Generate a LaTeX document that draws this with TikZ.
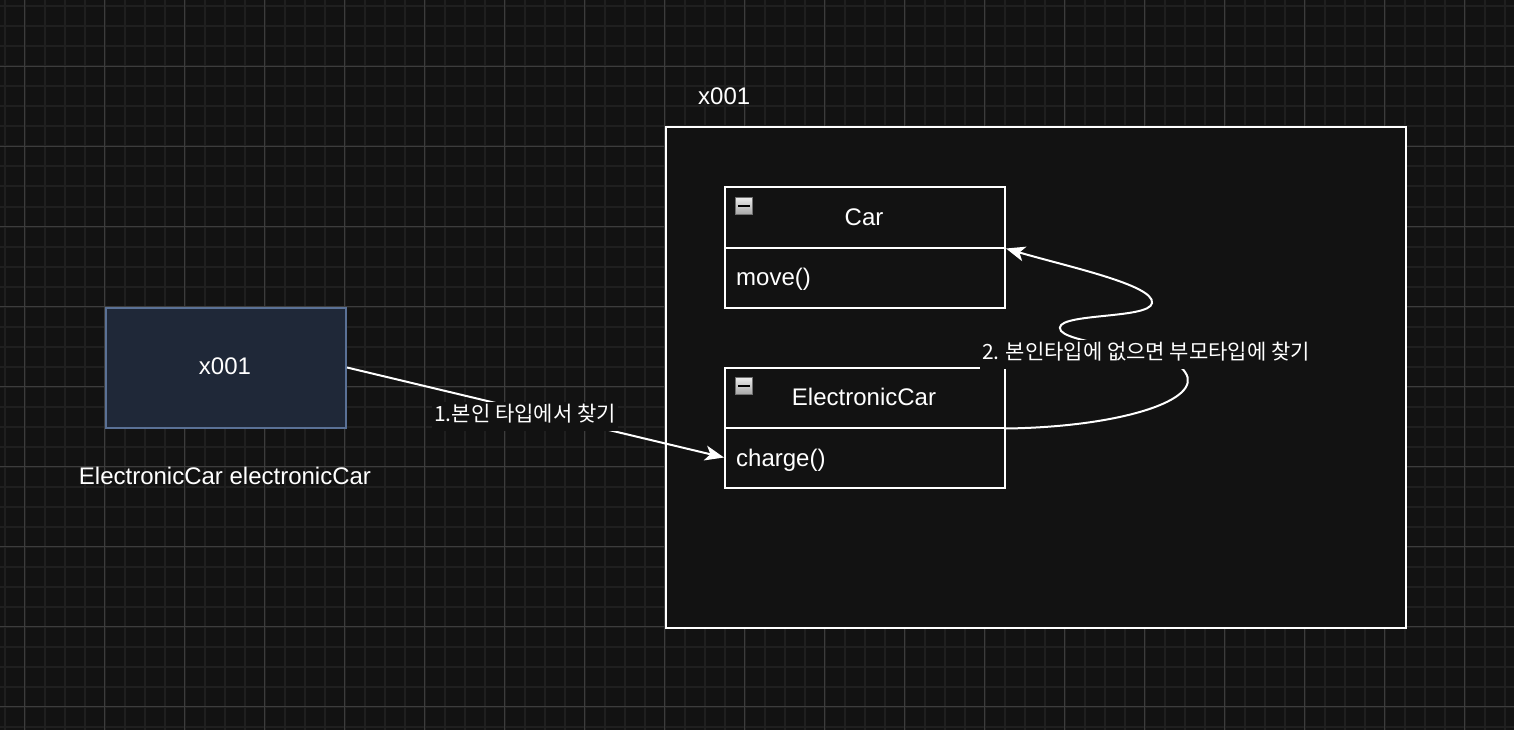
\documentclass[tikz,border=0pt]{standalone}
\usepackage{fontspec}
\setmainfont{Liberation Sans}
\newfontfamily\krfont{Noto Sans CJK KR}
\usetikzlibrary{arrows.meta,calc}
\definecolor{bgc}{HTML}{121212}
\definecolor{minorc}{HTML}{1F1F1F}
\definecolor{majorc}{HTML}{3C3C3C}
\definecolor{navyfill}{HTML}{1F2838}
\definecolor{navyline}{HTML}{5A7196}
\definecolor{iconline}{HTML}{707070}
\tikzset{
  txt/.style={text=white,font=\fontsize{24}{28}\selectfont,inner sep=0pt},
  krlabel/.style={text=white,font=\krfont\fontsize{21}{25}\selectfont,fill=bgc,
    inner xsep=2pt,inner ysep=0pt,text height=20pt,text depth=9pt},
  umlbox/.style={draw=white,line width=2pt,fill=bgc,inner sep=0pt,anchor=north west},
  conn/.style={draw=white,line width=2pt,-{Stealth[length=19pt,width=15pt,inset=5pt]}},
  minusicon/.style={draw=iconline,line width=1pt,top color=white!85!gray,bottom color=gray!70,
    minimum width=17pt,minimum height=17pt,inner sep=0pt,anchor=north west},
}
\begin{document}
\begin{tikzpicture}[x=1pt,y=-1pt]
\useasboundingbox (0,0) rectangle (1514,730);
\fill[bgc] (0,0) rectangle (1514,730);
% grid
\foreach \i in {0,...,75} {\draw[minorc,line width=2pt] ({4.5+20*\i},0) -- ({4.5+20*\i},730);}
\foreach \j in {0,...,36} {\draw[minorc,line width=2pt] (0,{6.5+20*\j}) -- (1514,{6.5+20*\j});}
\foreach \i in {0,...,18} {\draw[majorc,line width=1pt] ({24.5+80*\i},0) -- ({24.5+80*\i},730);}
\foreach \j in {-1,...,8} {\draw[majorc,line width=1pt] (0,{66.5+80*\j}) -- (1514,{66.5+80*\j});}

% container
\node[umlbox,minimum width=740pt,minimum height=500pt] (cont) at (665,126.5) {};
\node[txt,anchor=base west] (contlabel) at (698,105) {x001};

% Car class
\node[umlbox,minimum width=280pt,minimum height=60pt] (carHead) at (724,186.5) {};
\node[umlbox,minimum width=280pt,minimum height=60pt] (carBody) at (724,246.5) {};
\node[txt,anchor=base] (carName) at (864,225) {Car};
\node[txt,anchor=base west] (carMove) at (736,285) {move()};
\node[minusicon] (carIcon) at (735,197) {};
\draw[black,line width=2pt] ($(carIcon.west)+(3pt,0)$) -- ($(carIcon.east)+(-3pt,0)$);

% ElectronicCar class
\node[umlbox,minimum width=280pt,minimum height=60pt] (ecHead) at (724,366.5) {};
\node[umlbox,minimum width=280pt,minimum height=60pt] (ecBody) at (724,426.5) {};
\node[txt,anchor=base] (ecName) at (864,405) {ElectronicCar};
\node[txt,anchor=base west] (ecCharge) at (736,466) {charge()};
\node[minusicon] (ecIcon) at (735,377) {};
\draw[black,line width=2pt] ($(ecIcon.west)+(3pt,0)$) -- ($(ecIcon.east)+(-3pt,0)$);

% reference box
\node[draw=navyline,fill=navyfill,line width=2pt,minimum width=240pt,minimum height=120pt,inner sep=0pt,anchor=north west] (ref) at (105,306.5) {};
\node[txt,anchor=base] (refText) at (225,374) {x001};
\node[txt,anchor=base] (refLabel) at (225,484) {ElectronicCar electronicCar};

% connector 1
\draw[conn] (ref.east) -- (ecBody.west);
\node[krlabel] (lab1) at (525,416) {1.본인 타입에서 찾기};

% connector 2
\draw[conn] (ecHead.south east)
  .. controls (1120,427) and (1205,400) .. (1185,372)
  .. controls (1170,348) and (1075,346) .. (1061,331)
  .. controls (1048,312) and (1150,320) .. (1152,303)
  .. controls (1155,285) and (1065,266) .. (carHead.south east);
\node[krlabel] (lab2) at (1146,354) {2. 본인타입에 없으면 부모타입에 찾기};
\end{tikzpicture}
\end{document}
